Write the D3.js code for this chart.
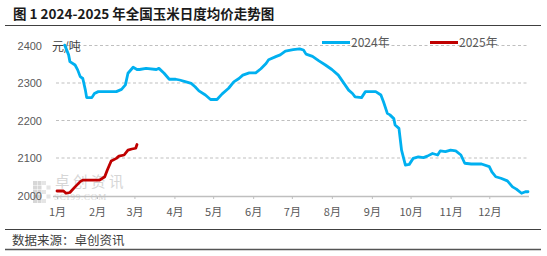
<!DOCTYPE html>
<html>
<head>
<meta charset="utf-8">
<script src="https://cdn.jsdelivr.net/npm/d3@7"></script>
<style>
  body { margin: 0; background: #fff; }
  svg { display: block; }
</style>
</head>
<body>
<svg id="chart" width="547" height="256"></svg>
<script>
// 2024年 玉米日度均价 (元/吨)
var dates2024 = ["01-07","01-10","01-11","01-15","01-17","01-19","01-21","01-23","01-24","01-28","01-30",
  "02-02","02-16","02-20","02-23","02-25","02-29","03-03","03-05","03-10","03-18","03-20","03-24","03-28",
  "04-02","04-05","04-10","04-14","04-17","04-20","04-25","04-29","05-04","05-08","05-13","05-17","05-21",
  "05-24","05-29","06-03","06-07","06-11","06-13","06-19","06-22","06-26","07-02","07-07","07-10","07-12",
  "07-17","07-22","07-27","08-01","08-06","08-10","08-14","08-17","08-19","08-24","08-27","09-04","09-08",
  "09-10","09-13","09-15","09-18","09-19","09-22","09-24","09-27","09-30","10-03","10-07","10-11","10-14",
  "10-18","10-22","10-24","10-28","11-01","11-05","11-09","11-12","11-17","11-25","12-01","12-03","12-06",
  "12-10","12-15","12-19","12-22","12-26","12-29","12-31"];
var values2024 = [2401,2375,2357,2348,2335,2317,2312,2281,2261,2261,2272,
  2277,2277,2283,2295,2326,2342,2336,2336,2339,2336,2339,2326,2310,
  2310,2308,2303,2299,2290,2279,2268,2256,2256,2271,2286,2303,2312,
  2321,2327,2327,2338,2352,2362,2371,2375,2385,2389,2391,2388,2377,
  2371,2359,2348,2336,2321,2301,2281,2272,2263,2261,2277,2277,2268,
  2250,2219,2215,2205,2188,2179,2121,2081,2083,2099,2103,2101,2105,
  2112,2108,2119,2117,2121,2119,2108,2086,2084,2084,2077,2063,2050,
  2046,2039,2023,2017,2006,2010,2010];

// 2025年
var dates2025 = ["01-01","01-06","01-08","01-11","01-15","01-19","01-21","02-03","02-07","02-09","02-12",
  "02-16","02-18","02-22","02-25","02-28","03-02","03-03"];
var values2025 = [2012,2012,2006,2008,2023,2037,2041,2041,2050,2068,2092,
  2099,2105,2108,2121,2124,2126,2136];

var yTicks = [2000, 2100, 2200, 2300, 2400];
var monthLabels = ["1月","2月","3月","4月","5月","6月","7月","8月","9月","10月","11月","12月"];
var seriesNames = ["2024年", "2025年"];
var seriesColors = ["#00B0F0", "#C00000"];

var svg = d3.select("#chart");
var parse = d3.timeParse("%Y-%m-%d");
// both years drawn on one calendar axis
function toDate(md) { return parse("2024-" + md); }

var x = d3.scaleTime().domain([parse("2024-01-01"), parse("2024-12-31")]).range([57, 528]);
var y = d3.scaleLinear().domain([2000, 2400]).range([195.5, 45.5]);

var fontCn = "'Noto Sans CJK SC', 'Liberation Sans', sans-serif";

// title
svg.append("text").attr("x", 13).attr("y", 19)
  .style("font-family", fontCn).style("font-weight", "bold").style("font-size", "13.5px")
  .style("fill", "#1a1a1a").text("图 1 2024-2025 年全国玉米日度均价走势图");
svg.append("line").attr("x1", 5).attr("x2", 541).attr("y1", 25.5).attr("y2", 25.5)
  .style("stroke", "#404040").style("stroke-width", 1.2);

// watermark
var wm = svg.append("g").attr("opacity", 0.55);
for (var i = 0; i < 4; i++) {
  for (var j = 0; j < 5; j++) {
    if ((i + j) % 2 == 0 || i < 2) {
      wm.append("rect").attr("x", 33 + i * 4.5).attr("y", 181 + j * 4.5).attr("width", 4).attr("height", 4)
        .style("fill", i < 2 ? "#b8b8b8" : "#d0d0d0");
    }
  }
}
wm.append("text").attr("x", 55).attr("y", 187).style("font-family", fontCn).style("font-size", "14.5px")
  .style("letter-spacing", "3.5px").style("fill", "#b5b5b5").text("卓创资讯");
wm.append("text").attr("x", 54).attr("y", 200).style("font-family", "'Liberation Serif', serif").style("font-size", "9px")
  .style("letter-spacing", "0.8px").style("fill", "#b5b5b5").text("SCI99.COM");

// gridlines
svg.append("g").selectAll("line").data(yTicks.filter(d => d > 2000)).enter().append("line")
  .attr("x1", 56).attr("x2", 528).attr("y1", d => y(d)).attr("y2", d => y(d))
  .style("stroke", "#bfbfbf").style("stroke-width", 1).style("stroke-dasharray", "3,2.5");

// y axis labels
var yAxis = d3.axisLeft(y).tickValues(yTicks).tickFormat(d3.format("d")).tickSize(0).tickPadding(0);
var yg = svg.append("g").attr("transform", "translate(42,0)").call(yAxis);
yg.select(".domain").remove();
yg.selectAll("text").style("font-family", "'Liberation Sans', sans-serif").style("font-size", "11px").style("fill", "#595959");

// x axis
var monthDates = d3.range(12).map(m => new Date(2024, m, 1));
var xAxis = d3.axisBottom(x).tickValues(monthDates).tickFormat((d, i) => monthLabels[i]).tickSize(3).tickSizeOuter(0).tickPadding(9);
var xg = svg.append("g").attr("transform", "translate(0,196)").call(xAxis);
xg.select(".domain").attr("d", "M53,0.5H529").style("stroke", "#bfbfbf").style("stroke-width", 1.5);
xg.selectAll(".tick line").style("stroke", "#bfbfbf");
xg.selectAll("text").style("font-family", fontCn).style("font-size", "11px").style("fill", "#595959");

// unit
svg.append("text").attr("x", 52).attr("y", 51).style("font-family", fontCn).style("font-size", "12px")
  .style("fill", "#404040").text("元/吨");

// lines
var line = d3.line().x(d => x(d.date)).y(d => y(d.value)).curve(d3.curveLinear);
var series = [
  dates2024.map((d, i) => ({ date: toDate(d), value: values2024[i] })),
  dates2025.map((d, i) => ({ date: toDate(d), value: values2025[i] }))
];
svg.append("g").selectAll("path").data(series).enter().append("path")
  .attr("d", line).style("fill", "none")
  .style("stroke", (d, i) => seriesColors[i]).style("stroke-width", 2.8)
  .style("stroke-linejoin", "round").style("stroke-linecap", "round");

// legend
var legendX = [322, 430];
var lg = svg.append("g").selectAll("g").data(seriesNames).enter().append("g")
  .attr("transform", (d, i) => `translate(${legendX[i]},42.5)`);
lg.append("line").attr("x1", 0).attr("x2", 28).style("stroke", (d, i) => seriesColors[i]).style("stroke-width", 3);
lg.append("text").attr("x", 29).attr("y", 4.5).style("font-family", fontCn).style("font-size", "12px")
  .style("fill", "#595959").text(d => d);

// footer
svg.append("line").attr("x1", 5).attr("x2", 541).attr("y1", 229.5).attr("y2", 229.5)
  .style("stroke", "#404040").style("stroke-width", 1);
svg.append("text").attr("x", 12).attr("y", 245).style("font-family", fontCn).style("font-size", "12.5px")
  .style("fill", "#404040").text("数据来源：卓创资讯");
svg.append("line").attr("x1", 5).attr("x2", 541).attr("y1", 249.5).attr("y2", 249.5)
  .style("stroke", "#555").style("stroke-width", 1.3);
</script>
</body>
</html>
